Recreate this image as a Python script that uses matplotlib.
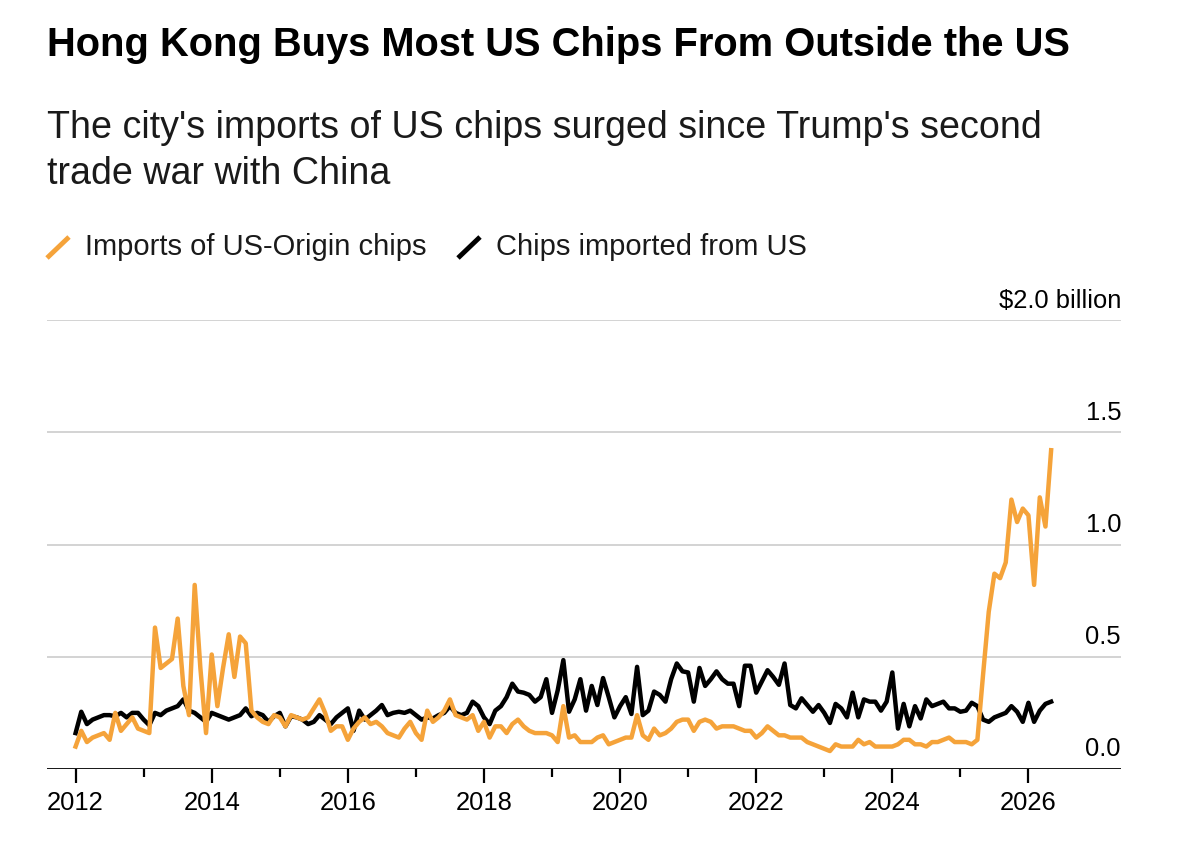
import numpy as np
import matplotlib.pyplot as plt
from matplotlib.lines import Line2D

plt.rcParams['font.family'] = ['Liberation Sans', 'DejaVu Sans']

# monthly values, Jan 2012 .. May 2026, $ billion
us_origin = [
    0.10, 0.17, 0.12, 0.14, 0.15, 0.16, 0.13, 0.25, 0.17, 0.20, 0.23, 0.18,  # 2012
    0.17, 0.16, 0.63, 0.45, 0.47, 0.49, 0.67, 0.37, 0.24, 0.82, 0.45, 0.16,  # 2013
    0.51, 0.28, 0.45, 0.60, 0.41, 0.59, 0.56, 0.26, 0.23, 0.21, 0.20, 0.24,  # 2014
    0.23, 0.19, 0.24, 0.23, 0.22, 0.23, 0.27, 0.31, 0.25, 0.17, 0.19, 0.19,  # 2015
    0.13, 0.18, 0.21, 0.23, 0.20, 0.21, 0.19, 0.16, 0.15, 0.14, 0.18, 0.21,  # 2016
    0.16, 0.13, 0.26, 0.21, 0.23, 0.26, 0.31, 0.24, 0.23, 0.22, 0.24, 0.17,  # 2017
    0.21, 0.14, 0.19, 0.19, 0.16, 0.20, 0.22, 0.19, 0.17, 0.16, 0.16, 0.16,  # 2018
    0.15, 0.12, 0.28, 0.14, 0.15, 0.12, 0.12, 0.12, 0.14, 0.15, 0.11, 0.12,  # 2019
    0.13, 0.14, 0.14, 0.24, 0.15, 0.13, 0.18, 0.15, 0.16, 0.18, 0.21, 0.22,  # 2020
    0.22, 0.17, 0.21, 0.22, 0.21, 0.18, 0.19, 0.19, 0.19, 0.18, 0.17, 0.17,  # 2021
    0.14, 0.16, 0.19, 0.17, 0.15, 0.15, 0.14, 0.14, 0.14, 0.12, 0.11, 0.10,  # 2022
    0.09, 0.08, 0.11, 0.10, 0.10, 0.10, 0.13, 0.11, 0.12, 0.10, 0.10, 0.10,  # 2023
    0.10, 0.11, 0.13, 0.13, 0.11, 0.11, 0.10, 0.12, 0.12, 0.13, 0.14, 0.12,  # 2024
    0.12, 0.12, 0.11, 0.13, 0.42, 0.70, 0.87, 0.85, 0.92, 1.20, 1.10, 1.16,  # 2025
    1.13, 0.82, 1.21, 1.08, 1.42,                                            # 2026
]
from_us = [
    0.16, 0.255, 0.20, 0.22, 0.23, 0.24, 0.24, 0.235, 0.25, 0.23, 0.25, 0.25,
    0.22, 0.195, 0.25, 0.24, 0.26, 0.27, 0.28, 0.31, 0.26, 0.25, 0.23, 0.21,
    0.25, 0.24, 0.23, 0.22, 0.23, 0.24, 0.27, 0.235, 0.25, 0.24, 0.21, 0.235,
    0.25, 0.19, 0.235, 0.23, 0.22, 0.20, 0.21, 0.24, 0.22, 0.20, 0.23, 0.25,
    0.27, 0.17, 0.26, 0.22, 0.24, 0.26, 0.285, 0.24, 0.25, 0.255, 0.25, 0.26,
    0.24, 0.22, 0.23, 0.225, 0.24, 0.25, 0.28, 0.25, 0.24, 0.25, 0.30, 0.28,
    0.23, 0.20, 0.26, 0.28, 0.32, 0.38, 0.345, 0.34, 0.33, 0.30, 0.32, 0.40,
    0.25, 0.35, 0.485, 0.255, 0.31, 0.40, 0.26, 0.37, 0.285, 0.405, 0.32, 0.23,
    0.28, 0.32, 0.245, 0.455, 0.24, 0.26, 0.345, 0.33, 0.30, 0.40, 0.47, 0.435,
    0.43, 0.30, 0.45, 0.37, 0.40, 0.435, 0.40, 0.38, 0.38, 0.28, 0.46, 0.46,
    0.34, 0.39, 0.44, 0.41, 0.375, 0.47, 0.285, 0.27, 0.315, 0.285, 0.255, 0.285,
    0.25, 0.205, 0.29, 0.27, 0.23, 0.34, 0.23, 0.31, 0.30, 0.30, 0.26, 0.30,
    0.43, 0.18, 0.29, 0.19, 0.28, 0.225, 0.31, 0.28, 0.29, 0.30, 0.27, 0.27,
    0.255, 0.26, 0.295, 0.28, 0.22, 0.21, 0.23, 0.24, 0.25, 0.28, 0.255, 0.21,
    0.295, 0.21, 0.26, 0.29, 0.30,
]
labels = ['Imports of US-Origin chips', 'Chips imported from US']
colors = ['#f5a33a', '#000000']
yticks = [0.0, 0.5, 1.0, 1.5, 2.0]
ytick_labels = ['0.0', '0.5', '1.0', '1.5', '$2.0 billion']
xticks = [2012, 2014, 2016, 2018, 2020, 2022, 2024, 2026]

months = 2012 + np.arange(len(us_origin)) / 12

W, H = 1186, 842
fig = plt.figure(figsize=(W / 100, H / 100), dpi=100)
ax = fig.add_axes([47 / W, 1 - 769 / H, (1121 - 47) / W, (769 - 320) / H])

for v in yticks[1:]:
    ax.axhline(v, color='#cccccc', lw=1.2, zorder=1)
ax.axhline(0, color='black', lw=2, zorder=4)

ax.plot(months, from_us, color=colors[1], lw=3.2, zorder=2, solid_joinstyle='round')
ax.plot(months, us_origin, color=colors[0], lw=3.2, zorder=3, solid_joinstyle='round')

ax.set_xlim(2011.58, 2027.36)
ax.set_ylim(0, 2.0)
for s in ax.spines.values():
    s.set_visible(False)
ax.set_yticks([])
ax.set_xticks(xticks)
ax.set_xticklabels([str(x) for x in xticks])
ax.set_xticks(range(2013, 2026, 2), minor=True)
ax.tick_params(axis='x', which='major', length=10, width=1.6, pad=6, labelsize=18.4, color='black')
ax.tick_params(axis='x', which='minor', length=5.5, width=1.6, color='black')

trans = ax.get_yaxis_transform()
for v, lab in zip(yticks, ytick_labels):
    ax.annotate(lab, xy=(1.0, v), xycoords=trans, xytext=(0, 9), textcoords='offset points',
                ha='right', va='baseline', fontsize=18.4)

fig.text(47 / W, 1 - 45 / H, 'Hong Kong Buys Most US Chips From Outside the US',
         fontsize=28.7, fontweight='bold', va='center', ha='left')
fig.text(47 / W, 1 - 128 / H, "The city's imports of US chips surged since Trump's second",
         fontsize=27.1, va='center', ha='left', color='#1a1a1a')
fig.text(47 / W, 1 - 174 / H, 'trade war with China',
         fontsize=27.1, va='center', ha='left', color='#1a1a1a')

for (x0, tx), lab, c in zip([(47, 85), (458, 496)], labels, colors):
    fig.add_artist(Line2D([x0 / W, (x0 + 22) / W], [1 - 258 / H, 1 - 237 / H],
                          color=c, lw=3.5, solid_capstyle='butt'))
    fig.text(tx / W, 1 - 247 / H, lab, fontsize=21, va='center', ha='left', color='#1a1a1a')

fig.savefig('out.png', dpi=100, facecolor='white')
